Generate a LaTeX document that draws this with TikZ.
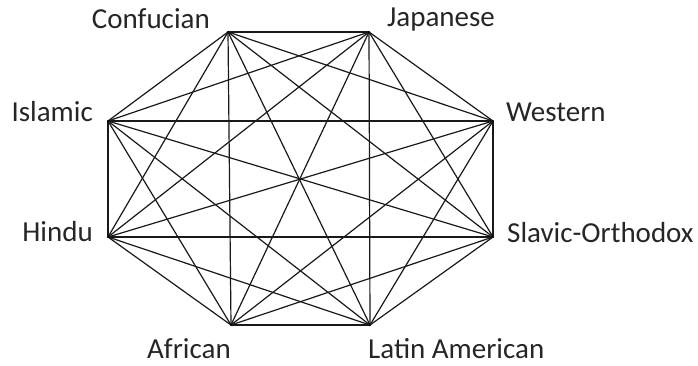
\documentclass[tikz,border=0pt]{standalone}
\usepackage{fontspec}
\setmainfont{Carlito}
\begin{document}
\begin{tikzpicture}[x=1pt,y=-1pt,
  vtx/.style={circle,fill=black,inner sep=0pt,minimum size=2.2pt},
  lbl/.style={font=\fontsize{29}{33}\selectfont,text=black!85,inner sep=0pt},
  edge/.style={line width=1.2pt,black!90}]
\useasboundingbox (0,0) rectangle (698,365);
\coordinate (C) at (228,32);
\coordinate (J) at (369,32);
\coordinate (W) at (493,121);
\coordinate (S) at (493,237);
\coordinate (L) at (370,325);
\coordinate (A) at (231,325);
\coordinate (H) at (108,237);
\coordinate (I) at (108,121);
\foreach \a/\b in {C/J,C/W,C/S,C/L,C/A,C/H,C/I,
                   J/W,J/S,J/L,J/A,J/H,J/I,
                   W/S,W/L,W/A,W/H,W/I,
                   S/L,S/A,S/H,S/I,
                   L/A,L/H,L/I,
                   A/H,A/I,
                   H/I}
  \draw[edge] (\a) -- (\b);
\foreach \v in {C,J,W,S,L,A,H,I} \node[vtx] at (\v) {};
\node[lbl,anchor=base east] (tC) at (210,28) {Confucian};
\node[lbl,anchor=base west] (tJ) at (387,26) {Japanese};
\node[lbl,anchor=base west] (tW) at (506,121) {Western};
\node[lbl,anchor=base west] (tS) at (507,242) {Slavic-Orthodox};
\node[lbl,anchor=base east] (tI) at (93,121) {Islamic};
\node[lbl,anchor=base east] (tH) at (93,241) {Hindu};
\node[lbl,anchor=base west] (tA) at (147,358) {African};
\node[lbl,anchor=base west] (tL) at (368,358) {Latin American};
\end{tikzpicture}
\end{document}
